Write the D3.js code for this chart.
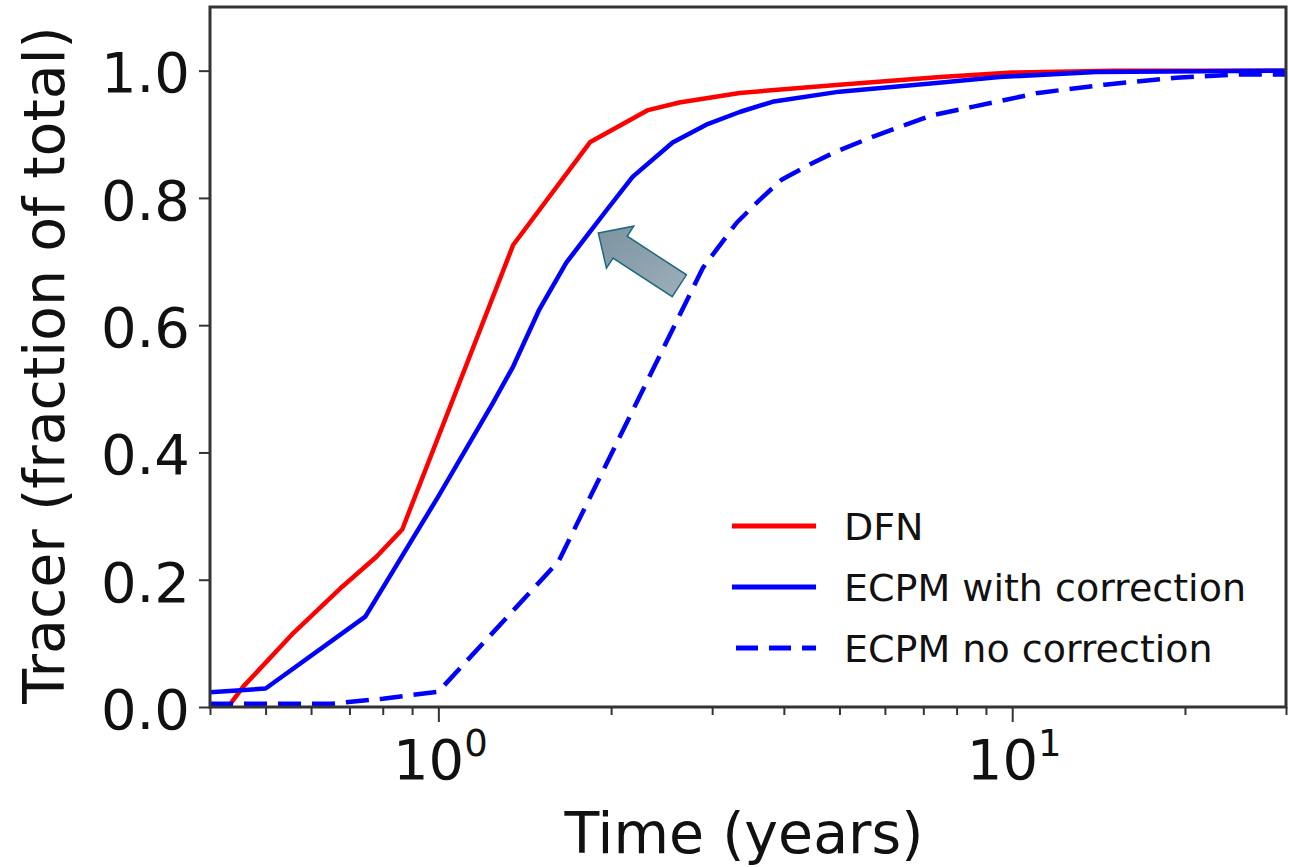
<!doctype html>
<head>
  <meta charset="utf-8">
  <script src="https://cdnjs.cloudflare.com/ajax/libs/d3/7.8.2/d3.min.js"></script>
</head>
<style>
    body { margin: 0; background: white; }
    text { font-family: "DejaVu Sans", sans-serif; fill: #111; }
</style>
<body>
    <div id="chart"></div>
    <script>
        // Datos (tiempo en años, fracción de trazador)
        const dfnTime = [0.43, 0.457, 0.56, 0.68, 0.78, 0.865, 1.35, 1.84, 2.32, 2.63, 3.35, 5.0, 7.5, 10, 15, 30];
        const dfnFrac = [0.0, 0.032, 0.117, 0.189, 0.236, 0.279, 0.726, 0.888, 0.938, 0.950, 0.965, 0.978, 0.990, 0.997, 1.0, 1.0];

        const corrTime = [0.4, 0.5, 0.746, 1.0, 1.245, 1.35, 1.5, 1.67, 1.81, 1.965, 2.18, 2.56, 2.93, 3.35, 3.82, 5.0, 7.45, 9.5, 14, 30];
        const corrFrac = [0.023, 0.029, 0.142, 0.331, 0.478, 0.535, 0.625, 0.698, 0.739, 0.781, 0.833, 0.887, 0.915, 0.935, 0.951, 0.967, 0.981, 0.990, 0.998, 1.0];

        const noCorrTime = [0.4, 0.65, 0.8, 1.0, 1.62, 2.89, 3.31, 3.63, 3.97, 4.49, 4.94, 5.71, 6.53, 7.26, 8.52, 11.1, 14.5, 19.3, 25, 30];
        const noCorrFrac = [0.005, 0.005, 0.013, 0.024, 0.229, 0.690, 0.761, 0.797, 0.829, 0.855, 0.873, 0.896, 0.915, 0.930, 0.943, 0.965, 0.978, 0.989, 0.994, 0.994];

        const seriesNames = ["DFN", "ECPM with correction", "ECPM no correction"];
        const yTicks = [0.0, 0.2, 0.4, 0.6, 0.8, 1.0];
        const xMajorTicks = [1, 10];
        const xMinorTicks = [0.4, 0.5, 0.6, 0.7, 0.8, 0.9, 2, 3, 4, 5, 6, 7, 8, 9, 20, 30];

        // flecha (punta y cola en coordenadas de datos)
        const arrowTip = [1.9, 0.745];
        const arrowTail = [2.63, 0.662];

        const width = 1289, height = 867;
        const margin = {left: 210, top: 7, right: 3, bottom: 160};
        const innerW = width - margin.left - margin.right;
        const innerH = height - margin.top - margin.bottom;

        const svg = d3.select("#chart").append("svg")
            .attr("width", width)
            .attr("height", height);

        const x = d3.scaleLog().domain([0.4, 30]).range([0, innerW]);
        const y = d3.scaleLinear().domain([0, 1.1]).range([innerH, 0]);

        const g = svg.append("g").attr("transform", `translate(${margin.left},${margin.top})`);

        g.append("clipPath").attr("id", "clip")
            .append("rect").attr("width", innerW).attr("height", innerH);

        // Series
        const series = [
            {name: seriesNames[0], t: dfnTime, v: dfnFrac, color: "#ff0000", dash: null},
            {name: seriesNames[1], t: corrTime, v: corrFrac, color: "#0000ff", dash: null},
            {name: seriesNames[2], t: noCorrTime, v: noCorrFrac, color: "#0000ff", dash: "23,11"},
        ];

        const line = d3.line().x((d) => x(d[0])).y((d) => y(d[1]));

        g.append("g").attr("clip-path", "url(#clip)")
            .selectAll("path")
            .data(series)
            .enter()
            .append("path")
            .attr("d", (s) => line(d3.zip(s.t, s.v)))
            .attr("fill", "none")
            .attr("stroke", (s) => s.color)
            .attr("stroke-width", 4.5)
            .attr("stroke-linejoin", "round")
            .attr("stroke-dasharray", (s) => s.dash);

        // Ejes
        const yAxis = g.append("g")
            .call(d3.axisLeft(y).tickValues(yTicks).tickSize(11).tickPadding(9).tickFormat(d3.format(".1f")));
        yAxis.select(".domain").remove();
        yAxis.selectAll(".tick line").attr("stroke", "#333").attr("stroke-width", 2);
        yAxis.selectAll(".tick text").attr("font-size", 56).attr("font-family", "DejaVu Sans").attr("fill", "#111").attr("dy", "0.38em");

        const xMinor = g.append("g").attr("transform", `translate(0,${innerH})`)
            .call(d3.axisBottom(x).tickValues(xMinorTicks).tickSize(8).tickFormat(""));
        xMinor.select(".domain").remove();
        xMinor.selectAll(".tick line").attr("stroke", "#333").attr("stroke-width", 2);

        const xMajor = g.append("g").attr("transform", `translate(0,${innerH})`)
            .call(d3.axisBottom(x).tickValues(xMajorTicks).tickSize(15).tickFormat(""));
        xMajor.select(".domain").remove();
        xMajor.selectAll(".tick line").attr("stroke", "#333").attr("stroke-width", 2);

        const xLabels = g.append("g").selectAll("text")
            .data(xMajorTicks)
            .enter()
            .append("text")
            .attr("x", (d) => x(d) + 2)
            .attr("y", innerH + 72)
            .attr("text-anchor", "middle")
            .attr("font-size", 56);
        xLabels.append("tspan").text("10");
        xLabels.append("tspan")
            .attr("font-size", 37)
            .attr("dy", -23)
            .text((d) => Math.round(Math.log10(d)));

        // Marco
        g.append("rect")
            .attr("width", innerW).attr("height", innerH)
            .attr("fill", "none")
            .attr("stroke", "#333")
            .attr("stroke-width", 3);

        // Títulos de ejes
        svg.append("text")
            .attr("x", 744).attr("y", 853)
            .attr("text-anchor", "middle")
            .attr("font-size", 57)
            .text("Time (years)");

        svg.append("text")
            .attr("transform", "translate(64,365) rotate(-90)")
            .attr("text-anchor", "middle")
            .attr("font-size", 57)
            .text("Tracer (fraction of total)");

        // Leyenda
        const legend = svg.append("g").attr("transform", "translate(732,526)");
        const rows = legend.selectAll("g")
            .data(series)
            .enter()
            .append("g")
            .attr("transform", (d, i) => `translate(0,${i * 61})`);
        rows.append("line")
            .attr("x1", 0).attr("x2", 84)
            .attr("stroke", (d) => d.color)
            .attr("stroke-width", 5)
            .attr("stroke-dasharray", (d) => d.dash ? "22,11" : null)
            .attr("stroke-dashoffset", (d) => d.dash ? -4 : null);
        rows.append("text")
            .attr("x", 112)
            .attr("dy", "0.36em")
            .attr("font-size", 38)
            .attr("fill", "#222")
            .text((d) => d.name);

        // Flecha de bloque (anotación)
        const defs = svg.append("defs");
        const grad = defs.append("linearGradient").attr("id", "arrowGrad")
            .attr("x1", "0%").attr("y1", "0%").attr("x2", "100%").attr("y2", "100%");
        grad.append("stop").attr("offset", "0%").attr("stop-color", "#7b93a1");
        grad.append("stop").attr("offset", "100%").attr("stop-color", "#9eafba");

        const tip = [x(arrowTip[0]), y(arrowTip[1])];
        const tail = [x(arrowTail[0]), y(arrowTail[1])];
        const len = Math.hypot(tail[0] - tip[0], tail[1] - tip[1]);
        const u = [(tip[0] - tail[0]) / len, (tip[1] - tail[1]) / len];
        const n = [-u[1], u[0]];
        const headLen = 26, headHalf = 25, shaftHalf = 13;
        const pt = (along, side) => [tip[0] - u[0] * along + n[0] * side, tip[1] - u[1] * along + n[1] * side];
        const arrowPts = [
            pt(0, 0), pt(headLen, headHalf), pt(headLen, shaftHalf), pt(len, shaftHalf),
            pt(len, -shaftHalf), pt(headLen, -shaftHalf), pt(headLen, -headHalf)
        ];
        g.append("path")
            .attr("d", "M" + arrowPts.map((p) => p.join(",")).join("L") + "Z")
            .attr("fill", "url(#arrowGrad)")
            .attr("stroke", "#1d6880")
            .attr("stroke-width", 1.5)
            .attr("stroke-linejoin", "miter");
    </script>
</body>
